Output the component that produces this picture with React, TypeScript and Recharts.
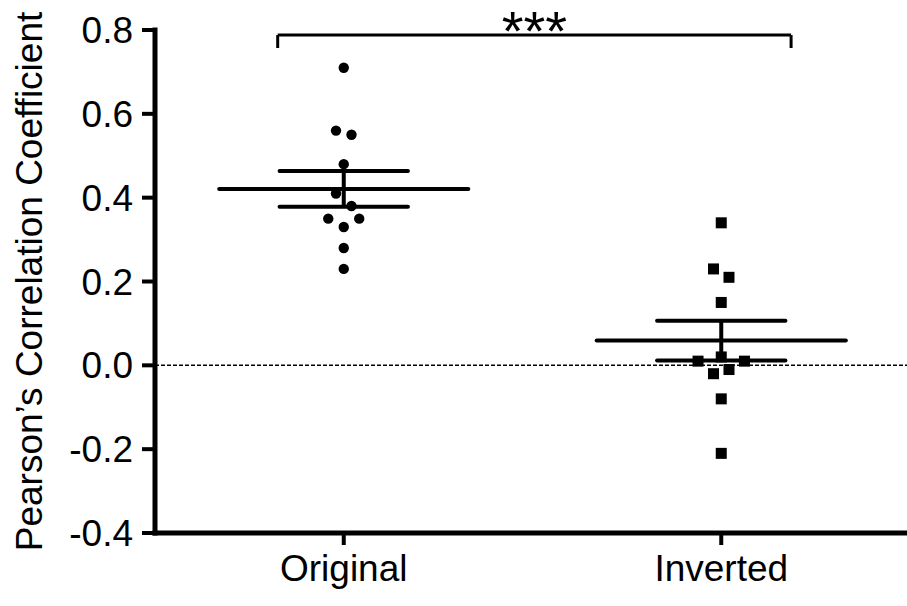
import { ScatterChart, Scatter, XAxis, YAxis, ReferenceLine } from "recharts"

const groups = ["Original", "Inverted"]
const groupPositions = [1, 3]
const originalValues = [0.71, 0.56, 0.55, 0.48, 0.41, 0.38, 0.35, 0.35, 0.33, 0.28, 0.23]
const invertedValues = [0.34, 0.23, 0.21, 0.15, 0.01, 0.02, 0.01, -0.02, -0.01, -0.08, -0.21]
// horizontal spread of overlapping dots, in dot widths
const originalJitter = [0, -1, 1, 0, -1, 1, -2, 2, 0, 0, 0]
const invertedJitter = [0, -1, 1, 0, -3, 0, 3, -1, 1, 0, 0]
const yTicks = [-0.4, -0.2, 0, 0.2, 0.4, 0.6, 0.8]
const significance = "***"

const FONT = "'Liberation Sans', Arial, Helvetica, sans-serif"
const JITTER = 0.041
const MEAN_HALF = 0.66
const CAP_HALF = 0.34

const toPoints = (values: number[], jitter: number[], pos: number) =>
  values.map((y, i) => ({ x: pos + jitter[i] * JITTER, y }))

const stats = (values: number[]) => {
  const n = values.length
  const mean = values.reduce((a, b) => a + b, 0) / n
  const sd = Math.sqrt(values.reduce((a, b) => a + (b - mean) ** 2, 0) / (n - 1))
  return { mean, sem: sd / Math.sqrt(n) }
}

const originalData = toPoints(originalValues, originalJitter, groupPositions[0])
const invertedData = toPoints(invertedValues, invertedJitter, groupPositions[1])
const summaries = [stats(originalValues), stats(invertedValues)]

const Dot = (p: any) => <circle cx={p.cx} cy={p.cy} r={5.2} fill="#000" />
const Square = (p: any) => <rect x={p.cx - 5.5} y={p.cy - 5.5} width={11} height={11} fill="#000" />

const YLabel = (p: any) => {
  const vb = p.viewBox || {}
  const cx = 42
  const cy = (vb.y ?? 30) + (vb.height ?? 503) / 2
  return (
    <text x={cx} y={cy} transform={`rotate(-90, ${cx}, ${cy})`} textAnchor="middle"
      fontSize={37} fontFamily={FONT} fill="#000">
      Pearson’s Correlation Coefficient
    </text>
  )
}

const Stars = (p: any) => {
  const vb = p.viewBox || {}
  const x = vb.x1 !== undefined ? (vb.x1 + vb.x2) / 2 : vb.x + vb.width / 2
  const y = vb.y1 !== undefined ? vb.y1 : vb.y
  return (
    <text x={x} y={y + 15} textAnchor="middle" fontSize={56} fontFamily={FONT} fill="#000">
      {significance}
    </text>
  )
}

const bracketLeft = 0.65
const bracketRight = 3.37
const bracketTop = 0.788
const bracketBottom = 0.757

export default function App() {
  return (
    <div style={{ position: "absolute", left: 0, top: 0, width: 907, height: 606, overflow: "hidden", background: "#fff" }}>
      <ScatterChart width={910} height={606} margin={{ top: 30, right: 0, bottom: 0, left: 0 }}>
        <XAxis
          type="number"
          dataKey="x"
          domain={[0, 4]}
          ticks={groupPositions}
          allowDataOverflow
          height={73}
          tickSize={12}
          tickMargin={10}
          tickFormatter={(v: number) => groups[groupPositions.indexOf(v)] ?? ""}
          axisLine={{ stroke: "#000", strokeWidth: 5, strokeLinecap: "square" }}
          tickLine={{ stroke: "#000", strokeWidth: 4 }}
          tick={{ fill: "#000", fontSize: 37, fontFamily: FONT }}
        />
        <YAxis
          type="number"
          dataKey="y"
          domain={[-0.4, 0.8]}
          ticks={yTicks}
          allowDataOverflow
          width={155}
          tickSize={13}
          tickMargin={9}
          tickFormatter={(v: number) => v.toFixed(1)}
          axisLine={{ stroke: "#000", strokeWidth: 5, strokeLinecap: "square" }}
          tickLine={{ stroke: "#000", strokeWidth: 4 }}
          tick={{ fill: "#000", fontSize: 37, fontFamily: FONT }}
          label={<YLabel />}
        />
        <ReferenceLine y={0} stroke="#000" strokeWidth={1.5} strokeDasharray="4 2" />

        {summaries.map((s, i) => {
          const pos = groupPositions[i]
          return [
            <ReferenceLine key={`m${i}`} segment={[{ x: pos - MEAN_HALF, y: s.mean }, { x: pos + MEAN_HALF, y: s.mean }]}
              stroke="#000" strokeWidth={4} strokeLinecap="round" />,
            <ReferenceLine key={`u${i}`} segment={[{ x: pos - CAP_HALF, y: s.mean + s.sem }, { x: pos + CAP_HALF, y: s.mean + s.sem }]}
              stroke="#000" strokeWidth={4} strokeLinecap="round" />,
            <ReferenceLine key={`l${i}`} segment={[{ x: pos - CAP_HALF, y: s.mean - s.sem }, { x: pos + CAP_HALF, y: s.mean - s.sem }]}
              stroke="#000" strokeWidth={4} strokeLinecap="round" />,
            <ReferenceLine key={`v${i}`} segment={[{ x: pos, y: s.mean - s.sem }, { x: pos, y: s.mean + s.sem }]}
              stroke="#000" strokeWidth={4} />,
          ]
        })}

        {/* significance bracket */}
        <ReferenceLine segment={[{ x: bracketLeft, y: bracketTop }, { x: bracketRight, y: bracketTop }]}
          stroke="#000" strokeWidth={3} ifOverflow="visible" label={<Stars />} />
        <ReferenceLine segment={[{ x: bracketLeft, y: bracketTop }, { x: bracketLeft, y: bracketBottom }]}
          stroke="#000" strokeWidth={3} ifOverflow="visible" />
        <ReferenceLine segment={[{ x: bracketRight, y: bracketTop }, { x: bracketRight, y: bracketBottom }]}
          stroke="#000" strokeWidth={3} ifOverflow="visible" />

        <Scatter name="Original" data={originalData} shape={Dot} isAnimationActive={false} />
        <Scatter name="Inverted" data={invertedData} shape={Square} isAnimationActive={false} />
      </ScatterChart>
    </div>
  )
}
